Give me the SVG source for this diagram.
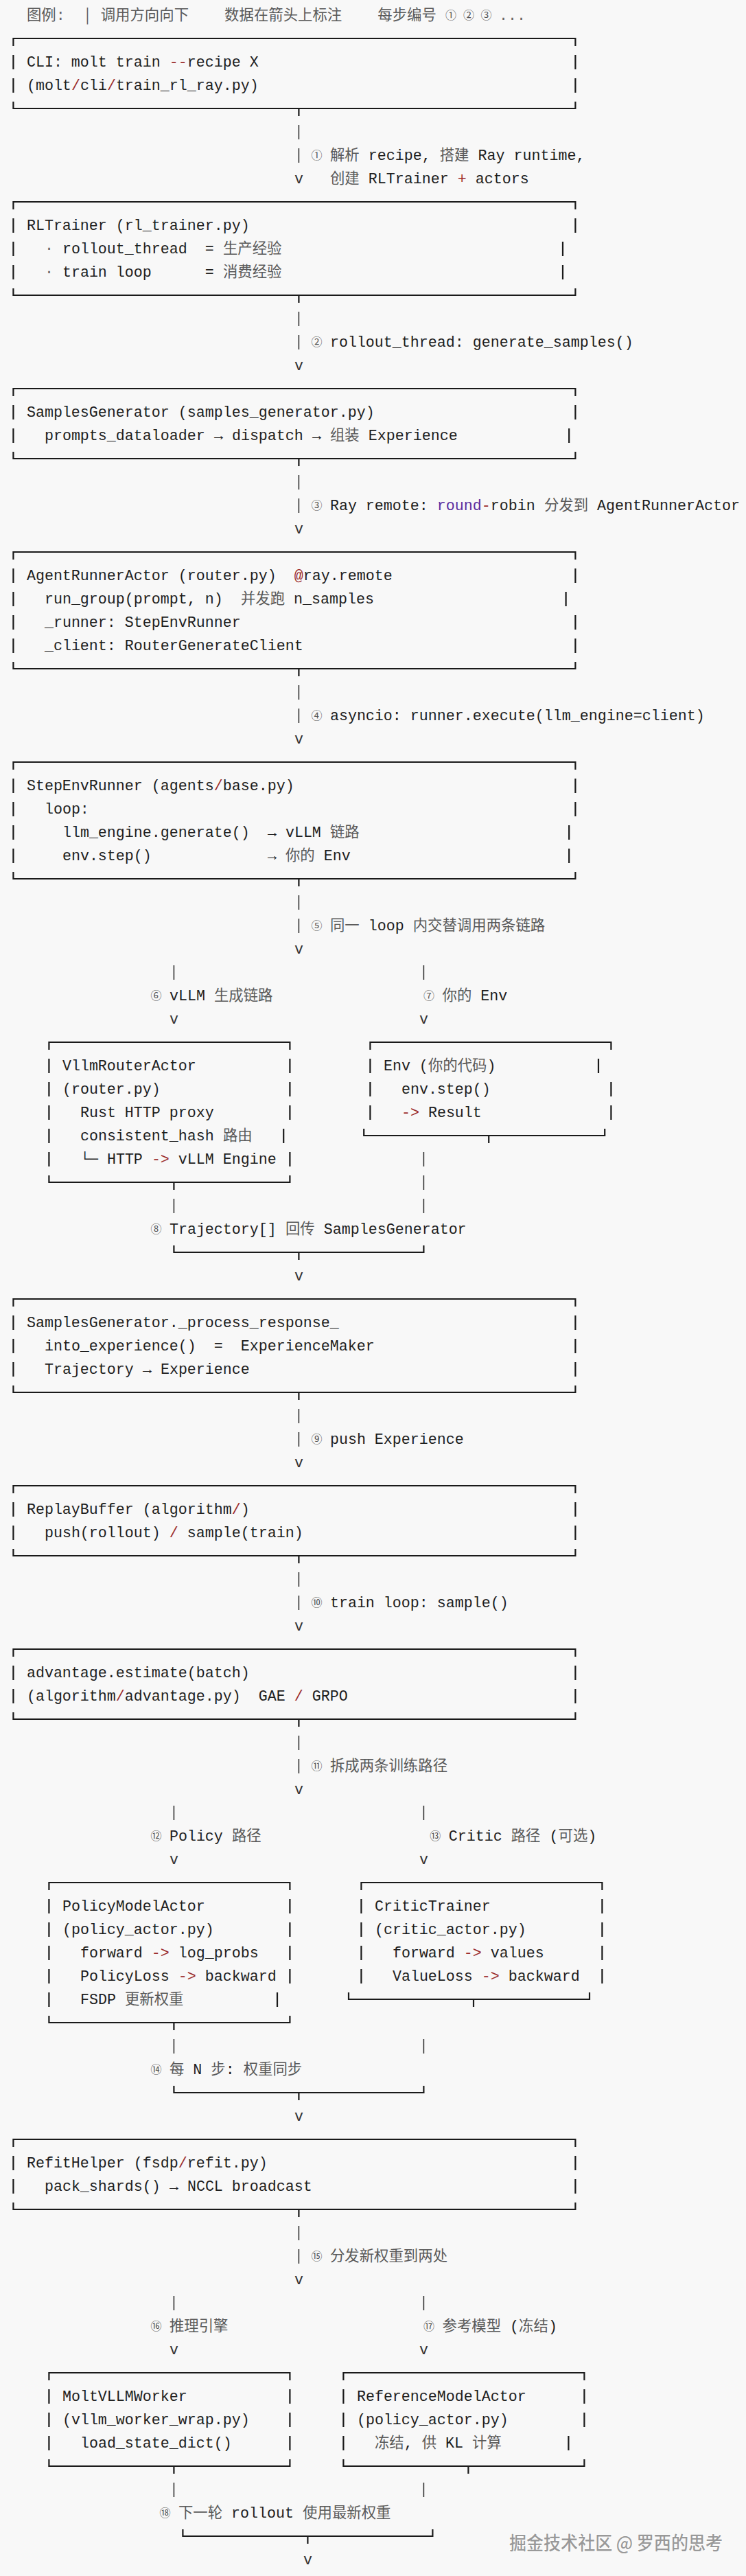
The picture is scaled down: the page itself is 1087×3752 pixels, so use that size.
<svg xmlns="http://www.w3.org/2000/svg" width="1087" height="3752" viewBox="0 0 1087 3752" xml:space="preserve">
<style>
.t{font-family:"Liberation Mono","DejaVu Sans Mono",monospace;font-size:21.66px;fill:#1e1e1e;white-space:pre}
.cj{font-family:"Noto Sans CJK SC","Noto Sans CJK JP",sans-serif;font-size:21.4px;fill:#5a5a5a}
.r{fill:#9b2c2c}
.p{fill:#5b2d9e}
.lg{fill:#666}
.dot{fill:#666}
.n{font-family:"Noto Sans CJK SC","DejaVu Sans",sans-serif;font-size:16px;fill:#555;text-anchor:middle}
.v{font-family:"Liberation Mono","DejaVu Sans Mono",monospace;font-size:21.66px;fill:#333;text-anchor:middle}
.bx{fill:none;stroke:#1a1a1a;stroke-width:2.2}
.cn{fill:none;stroke:#333;stroke-width:1.6}
.wm{font-family:"Noto Sans CJK SC",sans-serif;font-size:27px;font-weight:500;fill:#999;stroke:#ffffff;stroke-width:1.5;paint-order:stroke}
</style>
<rect width="1087" height="3752" fill="#f8f8f8"/>
<g id="legend"><text class="t lg" y="29"><tspan x="38.9" class="cj">图例</tspan><tspan x="81.7">:  │ </tspan><tspan x="146.7" class="cj">调用方向向下</tspan><tspan x="327.1" class="cj">数据在箭头上标注</tspan><tspan x="550.3" class="cj">每步编号</tspan></text><text class="n" x="657" y="27.5">①</text><text class="n" x="683" y="27.5">②</text><text class="n" x="708.5" y="27.5">③</text><text class="t lg" x="726.9" y="29">...</text></g>
<g id="node-cli"><path class="bx" d="M19.4 67V56H838.4V67M19.4 80V101M838.4 80V101M19.4 114V135M838.4 114V135M19.4 148V158H838.4V148M435.4 158V169"/><text class="t" x="38.9" y="97">CLI: molt train <tspan class="r">--</tspan>recipe X</text><text class="t" x="38.9" y="131">(molt<tspan class="r">/</tspan>cli<tspan class="r">/</tspan>train_rl_ray.py)</text></g>
<g id="node-rltrainer"><path class="bx" d="M19.4 305V294H838.4V305M19.4 318V339M838.4 318V339M19.4 352V373M820 352V373M19.4 386V407M820 386V407M19.4 420V430H838.4V420M435.4 430V441"/><text class="t" x="38.9" y="335">RLTrainer (rl_trainer.py)</text><text class="t" y="369"><tspan x="64.9" class="dot">·</tspan><tspan x="90.9">rollout_thread  = </tspan><tspan x="324.9" class="cj">生产经验</tspan></text><text class="t" y="403"><tspan x="64.9" class="dot">·</tspan><tspan x="90.9">train loop      = </tspan><tspan x="324.9" class="cj">消费经验</tspan></text></g>
<g id="node-samplesgen"><path class="bx" d="M19.4 577V566H838.4V577M19.4 590V611M838.4 590V611M19.4 624V645M829.2 624V645M19.4 658V668H838.4V658M435.4 668V679"/><text class="t" x="38.9" y="607">SamplesGenerator (samples_generator.py)</text><text class="t" y="641"><tspan x="64.9">prompts_dataloader </tspan><tspan x="311.9">→</tspan><tspan x="324.9"> dispatch </tspan><tspan x="454.9">→</tspan><tspan x="480.9" class="cj">组装</tspan><tspan x="523.7"> Experience</tspan></text></g>
<g id="node-agentrunner"><path class="bx" d="M19.4 815V804H838.4V815M19.4 828V849M838.4 828V849M19.4 862V883M824.6 862V883M19.4 896V917M838.4 896V917M19.4 930V951M838.4 930V951M19.4 964V974H838.4V964M435.4 974V985"/><text class="t" x="38.9" y="845">AgentRunnerActor (router.py)  <tspan class="r">@</tspan>ray.remote</text><text class="t" y="879"><tspan x="64.9">run_group(prompt, n)  </tspan><tspan x="350.9" class="cj">并发跑</tspan><tspan x="415.1"> n_samples</tspan></text><text class="t" x="64.9" y="913">_runner: StepEnvRunner</text><text class="t" x="64.9" y="947">_client: RouterGenerateClient</text></g>
<g id="node-stepenvrunner"><path class="bx" d="M19.4 1121V1110H838.4V1121M19.4 1134V1155M838.4 1134V1155M19.4 1168V1189M838.4 1168V1189M19.4 1202V1223M829.2 1202V1223M19.4 1236V1257M829.2 1236V1257M19.4 1270V1280H838.4V1270M435.4 1280V1291"/><text class="t" x="38.9" y="1151">StepEnvRunner (agents<tspan class="r">/</tspan>base.py)</text><text class="t" x="64.9" y="1185">loop:</text><text class="t" y="1219"><tspan x="90.9">llm_engine.generate()  </tspan><tspan x="389.9">→</tspan><tspan x="402.9"> vLLM </tspan><tspan x="480.9" class="cj">链路</tspan></text><text class="t" y="1253"><tspan x="90.9">env.step()</tspan><tspan x="389.9">→</tspan><tspan x="415.9" class="cj">你的</tspan><tspan x="458.7"> Env</tspan></text></g>
<g id="node-vllmrouter"><path class="bx" d="M71.4 1529V1518H422.4V1529M71.4 1542V1563M422.4 1542V1563M71.4 1576V1597M422.4 1576V1597M71.4 1610V1631M422.4 1610V1631M71.4 1644V1665M413.2 1644V1665M71.4 1678V1699M422.4 1678V1699M71.4 1712V1722H422.4V1712M253.4 1722V1733"/><text class="t" x="90.9" y="1559">VllmRouterActor</text><text class="t" x="90.9" y="1593">(router.py)</text><text class="t" x="116.9" y="1627">Rust HTTP proxy</text><text class="t" y="1661"><tspan x="116.9">consistent_hash </tspan><tspan x="324.9" class="cj">路由</tspan></text><text class="t" y="1695"><tspan x="116.9">└─</tspan><tspan x="142.9"> HTTP </tspan><tspan class="r">-&gt;</tspan> vLLM Engine</text></g>
<g id="node-env"><path class="bx" d="M539.4 1529V1518H890.4V1529M539.4 1542V1563M872 1542V1563M539.4 1576V1597M890.4 1576V1597M539.4 1610V1631M890.4 1610V1631M530.2 1644V1654H881.2V1644M712.2 1654V1665"/><text class="t" y="1559"><tspan x="558.9">Env (</tspan><tspan x="623.9" class="cj">你的代码</tspan><tspan x="709.5">)</tspan></text><text class="t" x="584.9" y="1593">env.step()</text><text class="t" y="1627"><tspan x="584.9" class="r">-&gt;</tspan> Result</text></g>
<g id="node-processresponse"><path class="bx" d="M19.4 1903V1892H838.4V1903M19.4 1916V1937M838.4 1916V1937M19.4 1950V1971M838.4 1950V1971M19.4 1984V2005M838.4 1984V2005M19.4 2018V2028H838.4V2018M435.4 2028V2039"/><text class="t" x="38.9" y="1933">SamplesGenerator._process_response_</text><text class="t" x="64.9" y="1967">into_experience()  =  ExperienceMaker</text><text class="t" y="2001"><tspan x="64.9">Trajectory </tspan><tspan x="207.9">→</tspan><tspan x="220.9"> Experience</tspan></text></g>
<g id="node-replaybuffer"><path class="bx" d="M19.4 2175V2164H838.4V2175M19.4 2188V2209M838.4 2188V2209M19.4 2222V2243M838.4 2222V2243M19.4 2256V2266H838.4V2256M435.4 2266V2277"/><text class="t" x="38.9" y="2205">ReplayBuffer (algorithm<tspan class="r">/</tspan>)</text><text class="t" x="64.9" y="2239">push(rollout) <tspan class="r">/</tspan> sample(train)</text></g>
<g id="node-advantage"><path class="bx" d="M19.4 2413V2402H838.4V2413M19.4 2426V2447M838.4 2426V2447M19.4 2460V2481M838.4 2460V2481M19.4 2494V2504H838.4V2494M435.4 2504V2515"/><text class="t" x="38.9" y="2443">advantage.estimate(batch)</text><text class="t" x="38.9" y="2477">(algorithm<tspan class="r">/</tspan>advantage.py)  GAE <tspan class="r">/</tspan> GRPO</text></g>
<g id="node-policy"><path class="bx" d="M71.4 2753V2742H422.4V2753M71.4 2766V2787M422.4 2766V2787M71.4 2800V2821M422.4 2800V2821M71.4 2834V2855M422.4 2834V2855M71.4 2868V2889M422.4 2868V2889M71.4 2902V2923M404 2902V2923M71.4 2936V2946H422.4V2936M253.4 2946V2957"/><text class="t" x="90.9" y="2783">PolicyModelActor</text><text class="t" x="90.9" y="2817">(policy_actor.py)</text><text class="t" x="116.9" y="2851">forward <tspan class="r">-&gt;</tspan> log_probs</text><text class="t" x="116.9" y="2885">PolicyLoss <tspan class="r">-&gt;</tspan> backward</text><text class="t" y="2919"><tspan x="116.9">FSDP </tspan><tspan x="181.9" class="cj">更新权重</tspan></text></g>
<g id="node-critic"><path class="bx" d="M526.4 2753V2742H877.4V2753M526.4 2766V2787M877.4 2766V2787M526.4 2800V2821M877.4 2800V2821M526.4 2834V2855M877.4 2834V2855M526.4 2868V2889M877.4 2868V2889M508 2902V2912H859V2902M690 2912V2923"/><text class="t" x="545.9" y="2783">CriticTrainer</text><text class="t" x="545.9" y="2817">(critic_actor.py)</text><text class="t" x="571.9" y="2851">forward <tspan class="r">-&gt;</tspan> values</text><text class="t" x="571.9" y="2885">ValueLoss <tspan class="r">-&gt;</tspan> backward</text></g>
<g id="node-refit"><path class="bx" d="M19.4 3127V3116H838.4V3127M19.4 3140V3161M838.4 3140V3161M19.4 3174V3195M838.4 3174V3195M19.4 3208V3218H838.4V3208M435.4 3218V3229"/><text class="t" x="38.9" y="3157">RefitHelper (fsdp<tspan class="r">/</tspan>refit.py)</text><text class="t" y="3191"><tspan x="64.9">pack_shards() </tspan><tspan x="246.9">→</tspan><tspan x="259.9"> NCCL broadcast</tspan></text></g>
<g id="node-moltvllm"><path class="bx" d="M71.4 3467V3456H422.4V3467M71.4 3480V3501M422.4 3480V3501M71.4 3514V3535M422.4 3514V3535M71.4 3548V3569M422.4 3548V3569M71.4 3582V3592H422.4V3582M253.4 3592V3603"/><text class="t" x="90.9" y="3497">MoltVLLMWorker</text><text class="t" x="90.9" y="3531">(vllm_worker_wrap.py)</text><text class="t" x="116.9" y="3565">load_state_dict()</text></g>
<g id="node-reference"><path class="bx" d="M500.4 3467V3456H851.4V3467M500.4 3480V3501M851.4 3480V3501M500.4 3514V3535M851.4 3514V3535M500.4 3548V3569M828.4 3548V3569M500.4 3582V3592H851.4V3582M682.4 3592V3603"/><text class="t" x="519.9" y="3497">ReferenceModelActor</text><text class="t" x="519.9" y="3531">(policy_actor.py)</text><text class="t" y="3565"><tspan x="545.9" class="cj">冻结</tspan><tspan x="588.7">, </tspan><tspan x="614.7" class="cj">供</tspan><tspan x="636.1"> KL </tspan><tspan x="688.1" class="cj">计算</tspan></text></g>
<g id="connectors">
<path class="cn" d="M435.4 182V203M435.4 216V237M435.4 454V475M435.4 488V509M435.4 692V713M435.4 726V747M435.4 998V1019M435.4 1032V1053M435.4 1304V1325M435.4 1338V1359M253.4 1406V1427M617.4 1406V1427M617.4 1678V1699M617.4 1712V1733M253.4 1746V1767M617.4 1746V1767M435.4 2052V2073M435.4 2086V2107M435.4 2290V2311M435.4 2324V2345M435.4 2528V2549M435.4 2562V2583M253.4 2630V2651M617.4 2630V2651M253.4 2970V2991M617.4 2970V2991M435.4 3242V3263M435.4 3276V3297M253.4 3344V3365M617.4 3344V3365M253.4 3616V3637M617.4 3616V3637"/>
<path class="bx" d="M253.4 1814V1824H617.4V1814M435.4 1824V1835M253.4 3038V3048H617.4V3038M435.4 3048V3059M266.4 3684V3694H630.4V3684M448.4 3694V3705"/>
<text class="v" x="435.4" y="267">v</text><text class="v" x="435.4" y="539">v</text><text class="v" x="435.4" y="777">v</text><text class="v" x="435.4" y="1083">v</text><text class="v" x="435.4" y="1389">v</text><text class="v" x="253.4" y="1491">v</text><text class="v" x="617.4" y="1491">v</text><text class="v" x="435.4" y="1865">v</text><text class="v" x="435.4" y="2137">v</text><text class="v" x="435.4" y="2375">v</text><text class="v" x="435.4" y="2613">v</text><text class="v" x="253.4" y="2715">v</text><text class="v" x="617.4" y="2715">v</text><text class="v" x="435.4" y="3089">v</text><text class="v" x="435.4" y="3327">v</text><text class="v" x="253.4" y="3429">v</text><text class="v" x="617.4" y="3429">v</text><text class="v" x="448.4" y="3735">v</text>
<text class="n" x="461.4" y="231.5">①</text><text class="n" x="461.4" y="503.5">②</text><text class="n" x="461.4" y="741.5">③</text><text class="n" x="461.4" y="1047.5">④</text><text class="n" x="461.4" y="1353.5">⑤</text><text class="n" x="227.4" y="1455.5">⑥</text><text class="n" x="625" y="1455.5">⑦</text><text class="n" x="227.4" y="1795.5">⑧</text><text class="n" x="461.4" y="2101.5">⑨</text><text class="n" x="461.4" y="2339.5">⑩</text><text class="n" x="461.4" y="2577.5">⑪</text><text class="n" x="227.4" y="2679.5">⑫</text><text class="n" x="634.2" y="2679.5">⑬</text><text class="n" x="227.4" y="3019.5">⑭</text><text class="n" x="461.4" y="3291.5">⑮</text><text class="n" x="227.4" y="3393.5">⑯</text><text class="n" x="625" y="3393.5">⑰</text><text class="n" x="240.4" y="3665.5">⑱</text>
<text class="t" y="233"><tspan x="480.9" class="cj">解析</tspan><tspan x="523.7"> recipe, </tspan><tspan x="640.7" class="cj">搭建</tspan><tspan x="683.5"> Ray runtime,</tspan></text>
<text class="t" y="267"><tspan x="480.9" class="cj">创建</tspan><tspan x="523.7"> RLTrainer </tspan><tspan class="r">+</tspan> actors</text>
<text class="t" x="480.9" y="505">rollout_thread: generate_samples()</text>
<text class="t" y="743"><tspan x="480.9">Ray remote: </tspan><tspan class="p">round</tspan><tspan class="r">-</tspan>robin <tspan x="792.9" class="cj">分发到</tspan><tspan x="857.1"> AgentRunnerActor</tspan></text>
<text class="t" x="480.9" y="1049">asyncio: runner.execute(llm_engine=client)</text>
<text class="t" y="1355"><tspan x="480.9" class="cj">同一</tspan><tspan x="523.7"> loop </tspan><tspan x="601.7" class="cj">内交替调用两条链路</tspan></text>
<text class="t" y="1457"><tspan x="246.9">vLLM </tspan><tspan x="311.9" class="cj">生成链路</tspan><tspan x="644.5" class="cj">你的</tspan><tspan x="687.3"> Env</tspan></text>
<text class="t" y="1797"><tspan x="246.9">Trajectory[] </tspan><tspan x="415.9" class="cj">回传</tspan><tspan x="458.7"> SamplesGenerator</tspan></text>
<text class="t" x="480.9" y="2103">push Experience</text>
<text class="t" x="480.9" y="2341">train loop: sample()</text>
<text class="t" y="2579"><tspan x="480.9" class="cj">拆成两条训练路径</tspan></text>
<text class="t" y="2681"><tspan x="246.9">Policy </tspan><tspan x="337.9" class="cj">路径</tspan><tspan x="653.7">Critic </tspan><tspan x="744.7" class="cj">路径</tspan><tspan x="787.5"> (</tspan><tspan x="813.5" class="cj">可选</tspan><tspan x="856.3">)</tspan></text>
<text class="t" y="3021"><tspan x="246.9" class="cj">每</tspan><tspan x="268.3"> N </tspan><tspan x="307.3" class="cj">步</tspan><tspan x="328.7">: </tspan><tspan x="354.7" class="cj">权重同步</tspan></text>
<text class="t" y="3293"><tspan x="480.9" class="cj">分发新权重到两处</tspan></text>
<text class="t" y="3395"><tspan x="246.9" class="cj">推理引擎</tspan><tspan x="644.5" class="cj">参考模型</tspan><tspan x="730.1"> (</tspan><tspan x="756.1" class="cj">冻结</tspan><tspan x="798.9">)</tspan></text>
<text class="t" y="3667"><tspan x="259.9" class="cj">下一轮</tspan><tspan x="324.1"> rollout </tspan><tspan x="441.1" class="cj">使用最新权重</tspan></text>
</g>
<text class="wm" x="742" y="3714" textLength="311" lengthAdjust="spacingAndGlyphs">掘金技术社区 @ 罗西的思考</text>
</svg>
